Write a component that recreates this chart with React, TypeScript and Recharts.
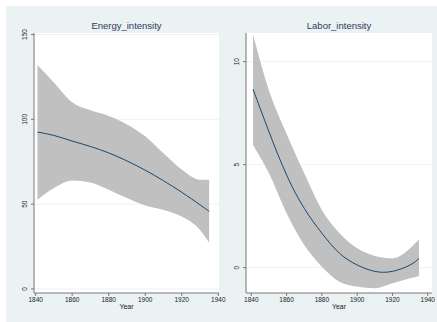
import { ComposedChart, Area, Line, XAxis, YAxis, CartesianGrid } from 'recharts';

const years = [1841, 1850, 1860, 1870, 1880, 1890, 1900, 1910, 1920, 1930, 1935];

const energyFit = [92.5, 90.5, 87.2, 84, 80.2, 75.5, 70, 63.8, 57, 49.6, 45.8];
const energyLow = [52.6, 59.5, 64, 62.8, 58.5, 53.6, 49.2, 46.6, 42.7, 34.8, 27.3];
const energyHigh = [132, 121.7, 110, 105.3, 102, 97, 90, 80, 70.4, 64.4, 64.4];

const laborFit = [8.66, 6.6, 4.5, 2.88, 1.67, 0.7, 0.13, -0.18, -0.18, 0.13, 0.45];
const laborLow = [5.95, 4.58, 2.64, 1.1, 0.05, -0.68, -0.92, -1.0, -0.76, -0.52, -0.4];
const laborHigh = [11.3, 8.6, 6.5, 4.58, 2.8, 1.67, 0.94, 0.57, 0.45, 0.94, 1.38];

const xTicks = [1840, 1860, 1880, 1900, 1920, 1940];
const energyTicks = [0, 50, 100, 150];
const laborTicks = [0, 5, 10];

const energyData = years.map((year, i) => ({
  year,
  fit: energyFit[i],
  band: [energyLow[i], energyHigh[i]]
}));

const laborData = years.map((year, i) => ({
  year,
  fit: laborFit[i],
  band: [laborLow[i], laborHigh[i]]
}));

const FONT = '"Liberation Sans", Arial, sans-serif';
const AXIS = '#777';
const TEXT = '#222';

const VTick = ({ x, y, payload }: any) => {
  const cx = x - 3;
  return (
    <text
      x={cx}
      y={y}
      transform={`rotate(-90 ${cx} ${y})`}
      textAnchor="middle"
      dominantBaseline="central"
      fontSize={6.5}
      fontFamily={FONT}
      fill={TEXT}
    >
      {payload.value}
    </text>
  );
};

interface PanelProps {
  data: any[];
  title: string;
  left: number;
  width: number;
  yWidth: number;
  rightMargin: number;
  xDomain: [number, number];
  yDomain: [number, number];
  yTicks: number[];
}

function Panel({ data, title, left, width, yWidth, rightMargin, xDomain, yDomain, yTicks }: PanelProps) {
  const plotLeft = yWidth;
  const plotRight = width - rightMargin;
  return (
    <div style={{ position: 'absolute', left, top: 6, width, height: 310 }}>
      <div
        style={{
          position: 'absolute',
          left: plotLeft,
          width: plotRight - plotLeft,
          top: 15,
          textAlign: 'center',
          fontFamily: FONT,
          fontSize: 9.5,
          color: '#2e3b5e',
          lineHeight: '10px'
        }}
      >
        {title}
      </div>
      <ComposedChart
        width={width}
        height={310}
        data={data}
        margin={{ top: 27, right: rightMargin, left: 0, bottom: 0 }}
      >
        <CartesianGrid vertical={false} fill="#ffffff" stroke="#edf3f4" horizontalValues={yTicks} />
        <XAxis
          dataKey="year"
          type="number"
          domain={xDomain}
          ticks={xTicks}
          interval={0}
          height={23}
          tickSize={3}
          tickMargin={1}
          stroke={AXIS}
          tick={{ fontSize: 6.5, fill: TEXT, fontFamily: FONT }}
          label={{ value: 'Year', position: 'insideBottom', offset: 7, fontSize: 7, fill: TEXT, fontFamily: FONT }}
        />
        <YAxis
          type="number"
          domain={yDomain}
          ticks={yTicks}
          interval={0}
          width={yWidth}
          tickSize={3}
          tickMargin={3}
          stroke={AXIS}
          allowDataOverflow
          tick={<VTick />}
        />
        <Area
          dataKey="band"
          type="monotone"
          stroke="none"
          fill="#c0c0c0"
          fillOpacity={1}
          isAnimationActive={false}
        />
        <Line
          dataKey="fit"
          type="natural"
          stroke="#1a476f"
          strokeWidth={1}
          dot={false}
          isAnimationActive={false}
        />
      </ComposedChart>
    </div>
  );
}

export default function App() {
  return (
    <div style={{ position: 'absolute', left: 0, top: 0, width: 437, height: 322, background: '#ffffff' }}>
      <style>{'.recharts-surface { overflow: visible; }'}</style>
      <div style={{ position: 'absolute', left: 6, top: 6, width: 431, height: 316, background: '#eaf2f3' }} />
      <Panel
        data={energyData}
        title="Energy_intensity"
        left={6}
        width={216}
        yWidth={28}
        rightMargin={3}
        xDomain={[1839.1, 1940.4]}
        yDomain={[-2.4, 150.9]}
        yTicks={energyTicks}
      />
      <Panel
        data={laborData}
        title="Labor_intensity"
        left={222}
        width={215}
        yWidth={24}
        rightMargin={5}
        xDomain={[1837, 1942.4]}
        yDomain={[-1.23, 11.39]}
        yTicks={laborTicks}
      />
    </div>
  );
}
